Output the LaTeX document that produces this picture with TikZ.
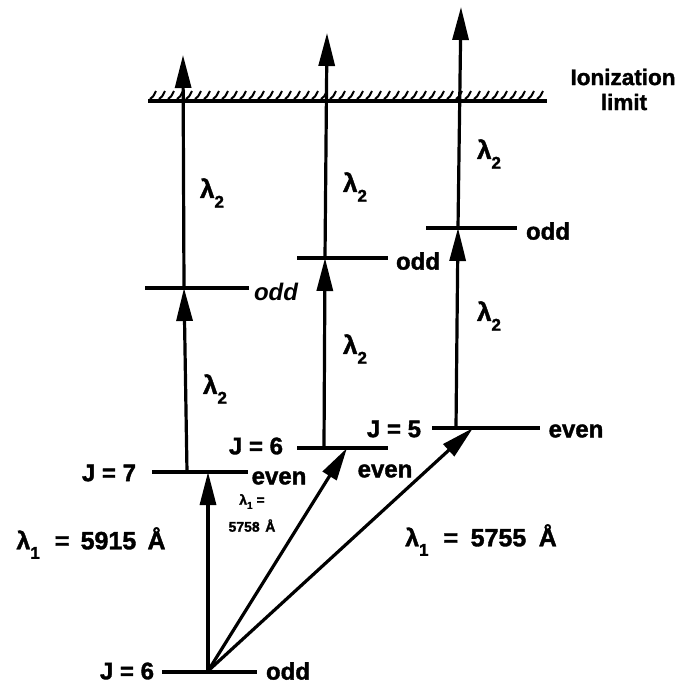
\documentclass[tikz,border=0pt]{standalone}
\usepackage{fontspec}
\setmainfont{Liberation Sans}[BoldFeatures={FakeBold=1.5}]
\usetikzlibrary{arrows.meta}
\newcommand\lamsub[1]{λ\raisebox{-0.38em}{\fontsize{17}{17}\selectfont #1}}
\begin{document}
\begin{tikzpicture}[x=1pt,y=-1pt,
  lvl/.style={line width=3.2pt},
  arr/.style={line width=3.2pt,-{Triangle[length=33pt,width=16pt]}},
  lab/.style={font=\fontsize{24}{24}\selectfont\bfseries, inner sep=0pt},
  lamlab/.style={font=\fontsize{26}{26}\selectfont\bfseries, inner sep=0pt},
  hatch/.style={line width=2pt}]
\useasboundingbox (0,0) rectangle (689,686);

% ---- levels (coordinates)
\coordinate (gL) at (162,672); \coordinate (gR) at (257,672); \coordinate (g0) at (208,671);
\coordinate (j7L) at (152,472); \coordinate (j7R) at (248,472); \coordinate (j7a) at (208,472); \coordinate (j7b) at (187,472);
\coordinate (j6L) at (297,448); \coordinate (j6R) at (388,448); \coordinate (j6a) at (347,448); \coordinate (j6b) at (324,448);
\coordinate (j5L) at (432,428); \coordinate (j5R) at (540,428); \coordinate (j5a) at (473,428); \coordinate (j5b) at (456,428);
\coordinate (oLL) at (145,288); \coordinate (oLR) at (249,288); \coordinate (oL) at (184,288);
\coordinate (oML) at (297,258); \coordinate (oMR) at (388,258); \coordinate (oM) at (325,258);
\coordinate (oRL) at (426,228); \coordinate (oRR) at (517,228); \coordinate (oR) at (458,228);
\coordinate (ionL) at (148,101); \coordinate (ionR) at (547,101);
\coordinate (tL) at (183,55); \coordinate (tM) at (327,33); \coordinate (tR) at (461,7);

\draw[lvl] (gL) -- (gR);
\draw[lvl] (j7L) -- (j7R);
\draw[lvl] (j6L) -- (j6R);
\draw[lvl] (j5L) -- (j5R);
\draw[lvl] (oLL) -- (oLR);
\draw[lvl] (oML) -- (oMR);
\draw[lvl] (oRL) -- (oRR);
\draw[lvl] (ionL) -- (ionR);
\foreach \x in {150,159,...,540} \draw[hatch] (\x,99) .. controls (\x+3,97) .. (\x+6,91);

% ---- arrows
\draw[arr] (g0) -- (j7a);
\draw[arr] (g0) -- (j6a);
\draw[arr] (g0) -- (j5a);
\draw[arr] (j7b) -- (oL);
\draw[arr] (oL) -- (tL);
\draw[arr] (j6b) -- (oM);
\draw[arr] (oM) -- (tM);
\draw[arr] (j5b) -- (oR);
\draw[arr] (oR) -- (tR);

% ---- labels
\node[lab, font=\fontsize{22.5}{22.5}\selectfont\bfseries] (ion1) at (623,77) {Ionization};
\node[lab, font=\fontsize{22.5}{22.5}\selectfont\bfseries] (ion2) at (624,102) {limit};
\node[lab] (Jg) at (127,671) {J = 6};
\node[lab] (og) at (288,671) {odd};
\node[lab] (J7) at (109,473) {J = 7};
\node[lab] (e7) at (279,478) {even};
\node[lab] (J6) at (256,446) {J = 6};
\node[lab] (e6) at (385,471) {even};
\node[lab] (J5) at (394,429) {J = 5};
\node[lab] (e5) at (576,431) {even};
\node[lab, font=\fontsize{24}{24}\selectfont\bfseries\itshape] (ol) at (276,292) {odd};
\node[lab] (om) at (418,261) {odd};
\node[lab] (or) at (548,231) {odd};
\node[lamlab] (l2a) at (212,193) {\lamsub{2}};
\node[lamlab] (l2b) at (215,389) {\lamsub{2}};
\node[lamlab] (l2c) at (355,187) {\lamsub{2}};
\node[lamlab] (l2d) at (355,349) {\lamsub{2}};
\node[lamlab] (l2e) at (489,154) {\lamsub{2}};
\node[lamlab] (l2f) at (489,316) {\lamsub{2}};
\node[lamlab, font=\fontsize{25}{25}\selectfont\bfseries] (l15915) at (91,543) {\lamsub{1}\hspace{0.6em}=\hspace{0.45em}5915\hspace{0.45em}Å};
\node[lamlab, font=\fontsize{25}{25}\selectfont\bfseries] (l15755) at (481,540) {\lamsub{1}\hspace{0.6em}=\hspace{0.5em}5755\hspace{0.5em}Å};
\node[align=center, inner sep=0pt, font=\fontsize{14}{27}\selectfont\bfseries] (l15758) at (252,513) {λ\raisebox{-0.3em}{\fontsize{10}{10}\selectfont 1} =\\5758\hspace{0.4em}Å};
\end{tikzpicture}
\end{document}
